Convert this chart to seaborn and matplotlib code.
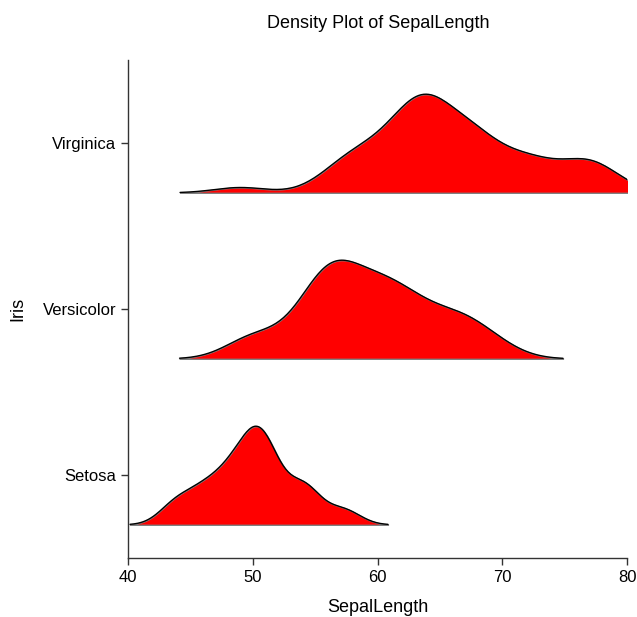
import matplotlib
matplotlib.use("Agg")
import matplotlib.pyplot as plt
import seaborn as sns

# Iris sepal length (mm) by species
setosa = [51, 49, 47, 46, 50, 54, 46, 50, 44, 49, 54, 48, 48, 43, 58, 57, 54, 51, 57, 51,
          54, 51, 46, 51, 48, 50, 50, 52, 52, 47, 48, 54, 52, 55, 49, 50, 55, 49, 44, 51,
          50, 45, 44, 50, 51, 48, 51, 46, 53, 50]
versicolor = [70, 64, 69, 55, 65, 57, 63, 49, 66, 52, 50, 59, 60, 61, 56, 67, 56, 58, 62, 56,
              59, 61, 63, 61, 64, 66, 68, 67, 60, 57, 55, 55, 58, 60, 54, 60, 67, 63, 56, 55,
              55, 61, 58, 50, 56, 57, 57, 62, 51, 57]
virginica = [63, 58, 71, 63, 65, 76, 49, 73, 67, 72, 65, 64, 68, 57, 58, 64, 65, 77, 77, 60,
             69, 56, 77, 63, 67, 72, 62, 61, 64, 72, 74, 79, 64, 63, 61, 77, 63, 64, 60, 69,
             67, 69, 58, 68, 67, 67, 63, 65, 62, 59]

groups = ["Setosa", "Versicolor", "Virginica"]
group_values = [setosa, versicolor, virginica]
bw_factors = [0.35, 0.41, 0.33]
x_ticks = [40, 50, 60, 70, 80]

sns.set_style("ticks")
plt.rcParams["font.family"] = ["Liberation Sans", "DejaVu Sans"]
plt.rcParams["text.color"] = "black"
plt.rcParams["axes.labelcolor"] = "black"
plt.rcParams["xtick.labelcolor"] = "black"
plt.rcParams["ytick.labelcolor"] = "black"

fig = plt.figure(figsize=(6.37, 6.17), dpi=100)
ax = fig.add_axes([128 / 637, 1 - 558 / 617, 499 / 637, 498 / 617])
ax.set_xlim(40, 80)
ax.set_ylim(0, 3)
ax.set_xticks(x_ticks)
ax.set_yticks([0.5, 1.5, 2.5])
ax.set_yticklabels(groups)
ax.tick_params(labelsize=12, length=5, width=1, color="#333333")
for side in ["top", "right"]:
    ax.spines[side].set_visible(False)
for side in ["left", "bottom"]:
    ax.spines[side].set_color("#333333")
    ax.spines[side].set_linewidth(1)
ax.set_xlabel("SepalLength", fontsize=13, labelpad=10)
ax.set_ylabel("Iris", fontsize=13, labelpad=12)

# one ridge per species, each scaled to the same peak height
for i, (vals, bw) in enumerate(zip(group_values, bw_factors)):
    sub = ax.inset_axes([40, 0.2 + i, 40, 0.6], transform=ax.transData)
    sns.kdeplot(x=vals, ax=sub, bw_method=bw, cut=2.3, fill=True,
                facecolor="#ff0000", edgecolor="#808080", alpha=1, linewidth=1)
    sns.kdeplot(x=vals, ax=sub, bw_method=bw, cut=2.3, color="black", linewidth=1)
    ymax = sub.lines[0].get_ydata().max()
    sub.set_xlim(40, 80)
    sub.set_ylim(0, ymax * 1.01)
    sub.set_xlabel("")
    sub.set_ylabel("")
    sub.set_xticks([])
    sub.set_yticks([])
    sub.axis("off")
    sub.patch.set_alpha(0)

fig.text(378 / 637, 1 - 23 / 617, "Density Plot of SepalLength", ha="center", va="center", fontsize=13)

fig.savefig("out.png", dpi=100)
